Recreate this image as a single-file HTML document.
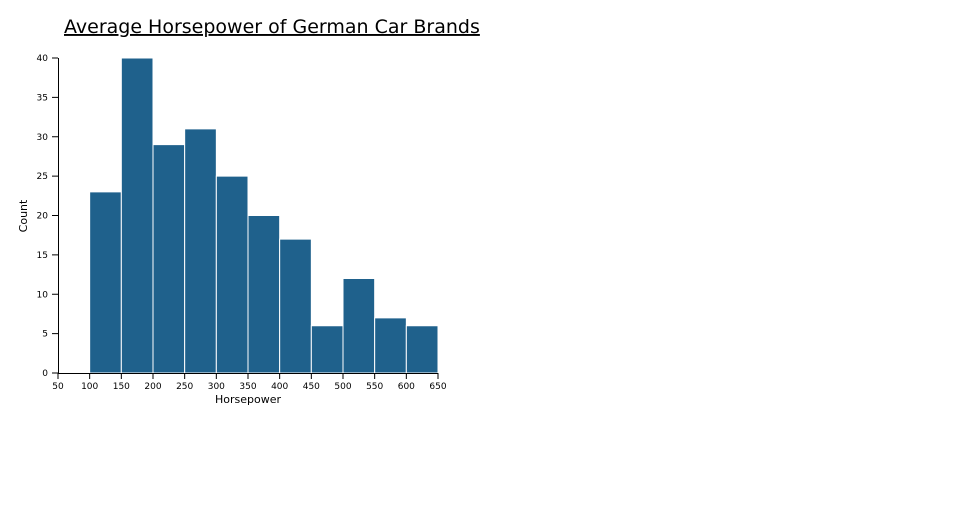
<!DOCTYPE html>
<html><head><meta charset="utf-8"><style>
body{margin:0;background:#fff;}
svg{font-family:"DejaVu Sans","Liberation Sans",sans-serif;}
</style></head><body>
<svg id="c" width="960" height="500">
<text x="64" y="33" font-size="19" text-decoration="underline" fill="#000">Average Horsepower of German Car Brands</text>
<g id="bars"></g><g id="xa"></g><g id="ya"></g>
<text x="248" y="403" font-size="11" text-anchor="middle">Horsepower</text>
<text transform="translate(27,216) rotate(-90)" font-size="11" text-anchor="middle">Count</text>
</svg>
<script>
const binStarts=[100,150,200,250,300,350,400,450,500,550,600];
const counts=[23,40,29,31,25,20,17,6,12,7,6];
const binWidth=50;
const xTicks=[50,100,150,200,250,300,350,400,450,500,550,600,650];
const yTicks=[0,5,10,15,20,25,30,35,40];
const NS="http://www.w3.org/2000/svg";
const x=v=>58+(v-50)*380/600;
const y=v=>373-v*315/40;
function mk(t,a,p){const e=document.createElementNS(NS,t);for(const k in a)e.setAttribute(k,a[k]);p.appendChild(e);return e;}
const bars=document.getElementById('bars');
binStarts.forEach((s,i)=>{
 const r=mk('rect',{x:x(s),y:y(counts[i]),width:x(s+binWidth)-x(s),height:y(0)-y(counts[i]),fill:'#1f618c',stroke:'#fff','stroke-width':1},bars);
 
 
});
const xa=document.getElementById('xa');
const xl=mk('line',{x1:58,x2:438,y1:373.5,y2:373.5,stroke:'#000'},xa);


xTicks.forEach(t=>{
 mk('line',{x1:x(t),x2:x(t),y1:373,y2:379,stroke:'#000'},xa);
 const tx=mk('text',{x:x(t),y:389,'font-size':9,'text-anchor':'middle'},xa);tx.textContent=t;
 
 
});
const ya=document.getElementById('ya');
const yl=mk('line',{x1:58.5,x2:58.5,y1:58,y2:373,stroke:'#000'},ya);


yTicks.forEach(t=>{
 mk('line',{x1:52,x2:58,y1:y(t),y2:y(t),stroke:'#000'},ya);
 const tx=mk('text',{x:48,y:y(t)+3,'font-size':9,'text-anchor':'end'},ya);tx.textContent=t;
 
 
});
</script>
</body></html>
